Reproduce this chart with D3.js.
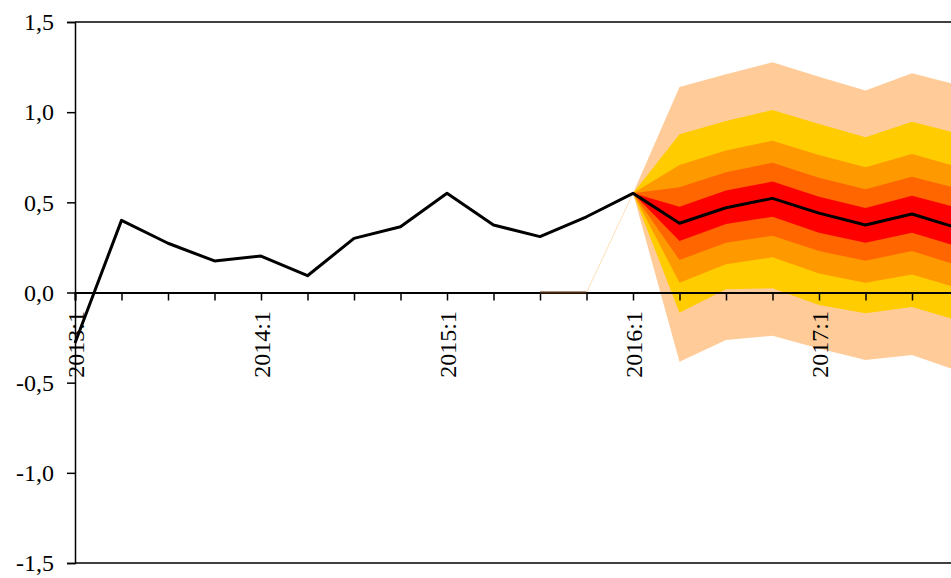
<!DOCTYPE html>
<html>
<head>
<meta charset="utf-8">
<script src="https://cdn.jsdelivr.net/npm/d3@7"></script>
<style>
  html, body { margin: 0; padding: 0; background: #fff; overflow: hidden; }
  svg { display: block; }
  text { font-family: "Liberation Serif", "Times New Roman", serif; font-size: 24px; fill: #000; }
</style>
</head>
<body>
<svg id="chart" width="951" height="578"></svg>
<script>
// ---- data ----
const periods = ["2013:1","2013:2","2013:3","2013:4","2014:1","2014:2","2014:3","2014:4",
                 "2015:1","2015:2","2015:3","2015:4","2016:1","2016:2","2016:3","2016:4",
                 "2017:1","2017:2","2017:3","2017:4"];
const xLabels = ["2013:1","2014:1","2015:1","2016:1","2017:1"];
const yTicks = [-1.5, -1.0, -0.5, 0.0, 0.5, 1.0, 1.5];

// observed (2013:1 .. 2016:1)
const history = [-0.28, 0.40, 0.273, 0.175, 0.202, 0.093, 0.30, 0.365, 0.55, 0.374, 0.31, 0.42, 0.55];
// forecast periods start at 2016:1 (index 12)
const forecastStart = 12;
const central   = [0.55, 0.384, 0.47, 0.522, 0.44, 0.374, 0.435, 0.356];
const peachTop  = [0.55, 1.14, 1.21, 1.277, 1.197, 1.12, 1.216, 1.149];
const yellowTop = [0.55, 0.877, 0.951, 1.012, 0.935, 0.861, 0.947, 0.881];
const orangeTop = [0.55, 0.707, 0.787, 0.842, 0.763, 0.694, 0.768, 0.695];
const dkorTop   = [0.55, 0.583, 0.667, 0.72, 0.637, 0.572, 0.642, 0.576];
const redTop    = [0.55, 0.476, 0.565, 0.615, 0.531, 0.469, 0.537, 0.469];
const redBot    = [0.55, 0.286, 0.38, 0.42, 0.332, 0.276, 0.332, 0.254];
const dkorBot   = [0.55, 0.18, 0.276, 0.315, 0.23, 0.176, 0.23, 0.149];
const orangeBot = [0.55, 0.054, 0.156, 0.195, 0.106, 0.054, 0.1, 0.023];
const yellowBot = [0.55, -0.112, 0.018, 0.023, -0.07, -0.115, -0.08, -0.156];
const peachBot  = [0.55, -0.384, -0.263, -0.24, -0.31, -0.374, -0.347, -0.435];

const bands = [
  {top: peachTop,  bot: peachBot,  color: "#FFCC99"},
  {top: yellowTop, bot: yellowBot, color: "#FFCC00"},
  {top: orangeTop, bot: orangeBot, color: "#FF9900"},
  {top: dkorTop,   bot: dkorBot,   color: "#FF6600"},
  {top: redTop,    bot: redBot,    color: "#FF0000"}
];

// ---- layout ----
const svg = d3.select("#chart");
const plotLeft = 75, plotTop = 22, plotBottom = 563;
const x = d3.scaleLinear().domain([0, 20]).range([plotLeft, plotLeft + 46.5 * 20]);
const y = d3.scaleLinear().domain([-1.5, 1.5]).range([plotBottom, plotTop]);

// bands
bands.forEach(b => {
  const pts = b.top.map((t, i) => ({i: forecastStart + i, t, b: b.bot[i]}));
  svg.append("path")
    .datum(pts)
    .attr("fill", b.color)
    .attr("d", d3.area().x(d => x(d.i)).y0(d => y(d.b)).y1(d => y(d.t)));
});

// faint lead-in edge of fan
svg.append("path")
  .datum([{i: 11, v: 0}, {i: 12, v: central[0]}])
  .attr("fill", "none").attr("stroke", "#FFE0B8").attr("stroke-width", 1)
  .attr("d", d3.line().x(d => x(d.i)).y(d => y(d.v)));

// frame: top and bottom border lines
svg.append("line").attr("x1", plotLeft).attr("x2", 951).attr("y1", y(1.5)).attr("y2", y(1.5))
  .attr("stroke", "#000").attr("stroke-width", 1.5);
svg.append("line").attr("x1", plotLeft).attr("x2", 951).attr("y1", y(-1.5)).attr("y2", y(-1.5))
  .attr("stroke", "#000").attr("stroke-width", 1.5);

// y axis
const yAxis = d3.axisLeft(y).tickValues(yTicks).tickSize(8).tickPadding(13)
  .tickFormat(d => d3.format(".1f")(d).replace(".", ",").replace("−", "-"));
const gy = svg.append("g").attr("transform", `translate(${plotLeft},0)`).call(yAxis);
gy.select(".domain").attr("stroke", "#000").attr("stroke-width", 1.5);
gy.selectAll(".tick line").attr("stroke", "#000").attr("stroke-width", 1.5);
gy.selectAll(".tick text").style("font-family", "Liberation Serif").style("font-size", "24px").attr("fill", "#000");

// x axis at zero
const xAxis = d3.axisBottom(x).tickValues(d3.range(0, 20)).tickSize(8).tickFormat("");
const gx = svg.append("g").attr("transform", `translate(0,${y(0)})`).call(xAxis);
gx.select(".domain").attr("stroke", "#000").attr("stroke-width", 2);
gx.selectAll(".tick line").attr("stroke", "#000").attr("stroke-width", 1.5);

// brownish zero-edge segment
svg.append("line").attr("x1", x(10)).attr("x2", x(11)).attr("y1", y(0)).attr("y2", y(0))
  .attr("stroke", "#4a2a10").attr("stroke-width", 2);

// rotated x labels
xLabels.forEach(lbl => {
  const i = periods.indexOf(lbl);
  svg.append("text")
    .attr("transform", `translate(${x(i)},311) rotate(-90)`)
    .attr("text-anchor", "end")
    .attr("dy", "0.36em")
    .text(lbl);
});

// observed line + central projection
const linePts = history.map((v, i) => ({i, v}))
  .concat(central.slice(1).map((v, k) => ({i: forecastStart + 1 + k, v})));
svg.append("path")
  .datum(linePts)
  .attr("fill", "none").attr("stroke", "#000").attr("stroke-width", 3)
  .attr("stroke-linejoin", "round")
  .attr("d", d3.line().x(d => x(d.i)).y(d => y(d.v)));
</script>
</body>
</html>
